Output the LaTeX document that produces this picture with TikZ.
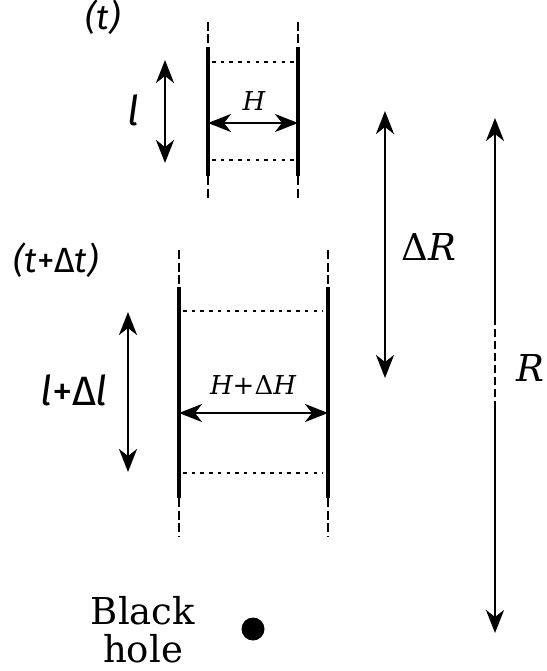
\documentclass[tikz,border=0pt]{standalone}
\usepackage{fontspec}
\setmainfont{DejaVu Serif}
\newfontfamily\lblfont{Fira Sans}
\usetikzlibrary{arrows.meta}
\newcommand{\up}[1]{{\upshape #1}}
\tikzset{
  wall/.style={line width=3.3pt},
  walldash/.style={line width=2.8pt, dash pattern=on 9pt off 3.5pt},
  dotline/.style={line width=2.3pt, dash pattern=on 3.5pt off 5.2pt},
  dimtip/.tip={Stealth[length=23pt,width=18pt,inset=7pt]},
  dim/.style={line width=2.8pt, dimtip-dimtip},
  dimstart/.style={line width=2.8pt, dimtip-},
  dimend/.style={line width=2.8pt, -dimtip},
  rdash/.style={line width=2.8pt, dash pattern=on 8pt off 4pt},
  timelbl/.style={font=\lblfont\itshape\fontsize{35}{40}\selectfont, inner sep=0pt},
  lenlbl/.style={font=\lblfont\itshape\fontsize{41}{46}\selectfont, inner sep=0pt},
  hlbl/.style={font=\itshape\fontsize{26}{30}\selectfont, inner sep=0pt},
  rlbl/.style={font=\itshape\fontsize{37}{42}\selectfont, inner sep=0pt},
  bhlbl/.style={font=\fontsize{37}{38}\selectfont, align=center, inner sep=0pt},
}
\begin{document}
\begin{tikzpicture}[x=1pt,y=-1pt]
\useasboundingbox (0,0) rectangle (546,671);

% ---- top box (t)
\coordinate (tLa) at (208,22);  \coordinate (tLb) at (208,47);
\coordinate (tLc) at (208,176); \coordinate (tLd) at (208,200);
\coordinate (tRa) at (298,22);  \coordinate (tRb) at (298,47);
\coordinate (tRc) at (298,176); \coordinate (tRd) at (298,200);
\draw[walldash] (tLa) -- (tLb);
\draw[wall] (tLb) -- (tLc);
\draw[walldash] (tLc) -- (tLd);
\draw[walldash] (tRa) -- (tRb);
\draw[wall] (tRb) -- (tRc);
\draw[walldash] (tRc) -- (tRd);
\coordinate (tD1a) at (212,62);  \coordinate (tD1b) at (295,62);
\coordinate (tD2a) at (212,160); \coordinate (tD2b) at (295,160);
\draw[dotline] (tD1a) -- (tD1b);
\draw[dotline] (tD2a) -- (tD2b);
\coordinate (tHa) at (208,123); \coordinate (tHb) at (298,123);
\draw[dim] (tHa) -- (tHb);
\node[hlbl] (Hlab) at (254,101) {H};
\coordinate (tla) at (165,60); \coordinate (tlb) at (165,163);
\draw[dim] (tla) -- (tlb);
\node[lenlbl] (llab) at (133,110) {l};
\node[timelbl] (tlab) at (103,17) {(t)};

% ---- bottom box (t+dt)
\coordinate (bLa) at (179,250); \coordinate (bLb) at (179,287);
\coordinate (bLc) at (179,498); \coordinate (bLd) at (179,537);
\coordinate (bRa) at (328,250); \coordinate (bRb) at (328,287);
\coordinate (bRc) at (328,498); \coordinate (bRd) at (328,537);
\draw[walldash] (bLa) -- (bLb);
\draw[wall] (bLb) -- (bLc);
\draw[walldash] (bLc) -- (bLd);
\draw[walldash] (bRa) -- (bRb);
\draw[wall] (bRb) -- (bRc);
\draw[walldash] (bRc) -- (bRd);
\coordinate (bD1a) at (183,311); \coordinate (bD1b) at (323,311);
\coordinate (bD2a) at (183,473); \coordinate (bD2b) at (323,473);
\draw[dotline] (bD1a) -- (bD1b);
\draw[dotline] (bD2a) -- (bD2b);
\coordinate (bHa) at (179,413); \coordinate (bHb) at (328,413);
\draw[dim] (bHa) -- (bHb);
\node[hlbl] (HHlab) at (253,385) {H\up{+Δ}H};
\coordinate (bla) at (128,312); \coordinate (blb) at (128,472);
\draw[dim] (bla) -- (blb);
\node[lenlbl] (lllab) at (74,390) {l\up{+Δ}l};
\node[timelbl] (ttlab) at (56,260) {(t\up{+Δ}t)};

% ---- Delta R
\coordinate (dRa) at (385,111); \coordinate (dRb) at (385,378);
\draw[dim] (dRa) -- (dRb);
\node[rlbl] (dRlab) at (429,247) {\up{Δ}R};

% ---- R
\coordinate (Ra) at (495,118); \coordinate (Rb) at (495,317);
\coordinate (Rc) at (495,409); \coordinate (Rd) at (495,633);
\draw[dimstart] (Ra) -- (Rb);
\draw[rdash] (Rb) -- (Rc);
\draw[dimend] (Rc) -- (Rd);
\node[rlbl] (Rlab) at (530,368) {R};

% ---- black hole
\node[circle, fill=black, inner sep=0pt, minimum size=23pt] (bh) at (253,629) {};
\node[bhlbl] (bhlab) at (143,630) {Black\\hole};
\end{tikzpicture}
\end{document}
